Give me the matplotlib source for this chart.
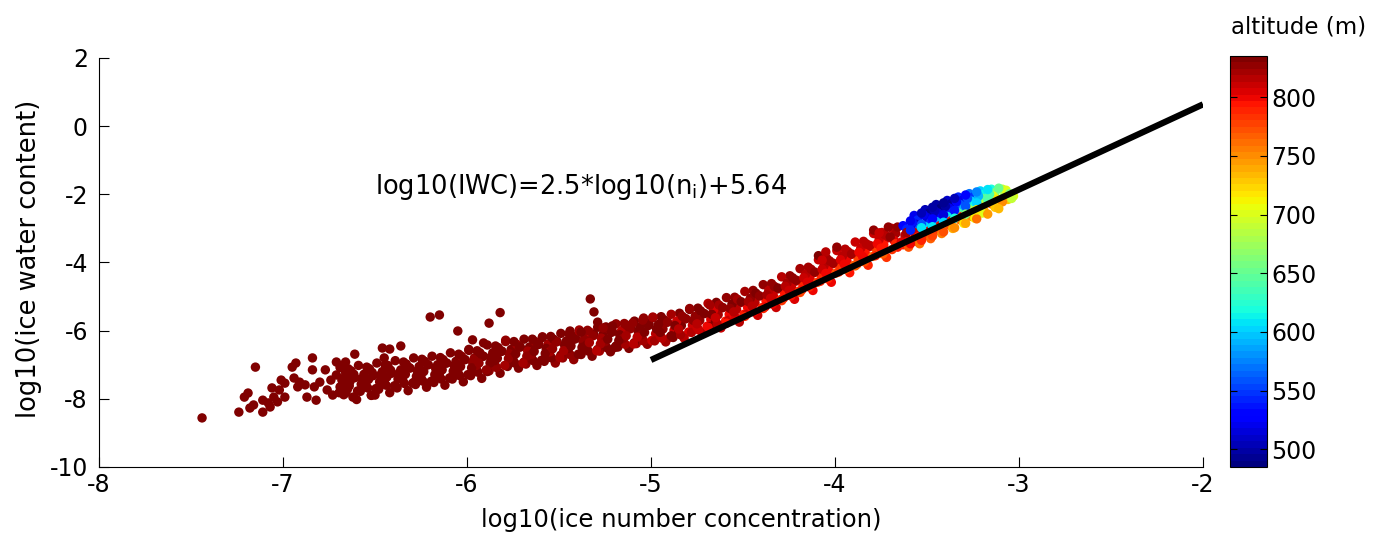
import numpy as np
import matplotlib.pyplot as plt

plt.rcParams['font.family'] = 'DejaVu Sans'
plt.rcParams['axes.unicode_minus'] = False

# --- data: log10(ni), log10(IWC), altitude (m) ---
# sparse left tail
tail_x = [-7.44, -7.24, -7.21, -7.19, -7.18, -7.16, -7.15, -7.11, -7.11, -7.08,
          -7.07, -7.06, -7.05, -7.03, -7.02, -7.01, -6.99, -6.99, -6.95, -6.93,
          -6.94, -6.92, -6.91, -6.88, -6.87, -6.84, -6.84, -6.83, -6.82, -6.80,
          -6.77, -6.76, -6.74, -6.73, -6.71, -6.71, -6.69, -6.67, -6.66, -6.65]
tail_y = [-8.56, -8.39, -7.95, -7.83, -8.27, -8.18, -7.07, -8.39, -8.04, -8.12,
          -8.24, -7.68, -7.95, -8.09, -7.74, -7.45, -7.95, -7.54, -7.07, -6.95,
          -7.39, -7.65, -7.51, -7.59, -7.95, -6.80, -7.15, -7.65, -8.04, -7.51,
          -7.15, -7.74, -7.45, -7.89, -6.92, -7.30, -7.65, -7.07, -7.83, -7.39]
tail_alt = [835] * 40

# dense lower band, -6.7 .. -5.0
low_x = [
    -6.69, -6.67, -6.66, -6.64, -6.63, -6.62, -6.68, -6.65, -6.61, -6.64, -6.66,
    -6.59, -6.58, -6.56, -6.55, -6.53, -6.52, -6.57, -6.54, -6.51, -6.55, -6.60,
    -6.49, -6.48, -6.46, -6.45, -6.43, -6.42, -6.47, -6.44, -6.41, -6.45, -6.50,
    -6.39, -6.38, -6.36, -6.35, -6.33, -6.32, -6.37, -6.34, -6.31, -6.35, -6.39,
    -6.29, -6.28, -6.26, -6.25, -6.23, -6.22, -6.27, -6.24, -6.21, -6.25, -6.29,
    -6.19, -6.18, -6.16, -6.15, -6.13, -6.12, -6.17, -6.14, -6.11, -6.15, -6.19,
    -6.09, -6.08, -6.06, -6.05, -6.03, -6.02, -6.07, -6.04, -6.01, -6.05, -6.09,
    -5.99, -5.98, -5.96, -5.95, -5.93, -5.92, -5.97, -5.94, -5.91, -5.95, -5.99,
    -5.89, -5.88, -5.86, -5.85, -5.83, -5.82, -5.87, -5.84, -5.81, -5.85, -5.89,
    -5.79, -5.78, -5.76, -5.75, -5.73, -5.72, -5.77, -5.74, -5.71, -5.75, -5.79,
    -5.69, -5.68, -5.66, -5.65, -5.63, -5.62, -5.67, -5.64, -5.61, -5.65, -5.69,
    -5.59, -5.58, -5.56, -5.55, -5.53, -5.52, -5.57, -5.54, -5.51, -5.55, -5.59,
    -5.49, -5.48, -5.46, -5.45, -5.43, -5.42, -5.47, -5.44, -5.41, -5.45, -5.49,
    -5.39, -5.38, -5.36, -5.35, -5.33, -5.32, -5.37, -5.34, -5.31, -5.35, -5.39,
    -5.29, -5.28, -5.26, -5.25, -5.23, -5.22, -5.27, -5.24, -5.21, -5.25, -5.29,
    -5.19, -5.18, -5.16, -5.15, -5.13, -5.12, -5.17, -5.14, -5.11, -5.15, -5.19,
    -5.09, -5.08, -5.06, -5.05, -5.03, -5.02, -5.07, -5.04, -5.01, -5.05, -5.09]
low_y = [
    -7.08, -7.88, -7.32, -7.62, -7.18, -7.95, -7.45, -7.72, -7.38, -7.52, -7.22,
    -7.02, -7.78, -7.28, -7.58, -7.12, -7.90, -7.40, -7.68, -7.32, -7.50, -8.02,
    -6.95, -7.72, -7.20, -7.50, -7.02, -7.82, -7.30, -7.60, -7.25, -7.42, -7.89,
    -6.88, -7.68, -7.15, -7.45, -6.98, -7.76, -7.25, -7.55, -7.10, -7.36, -7.62,
    -6.80, -7.58, -7.05, -7.38, -6.90, -7.66, -7.18, -7.48, -7.00, -7.28, -7.52,
    -6.75, -7.52, -7.00, -7.32, -6.85, -7.60, -7.12, -7.42, -6.95, -7.22, -7.48,
    -6.65, -7.42, -6.90, -7.22, -6.75, -7.50, -7.02, -7.32, -6.85, -7.12, -7.38,
    -6.55, -7.32, -6.80, -7.12, -6.65, -7.40, -6.92, -7.22, -6.75, -7.02, -6.58,
    -6.42, -7.18, -6.65, -6.98, -6.50, -7.25, -6.78, -7.08, -6.60, -6.88, -7.20,
    -6.32, -7.05, -6.55, -6.88, -6.40, -7.10, -6.68, -6.95, -6.48, -6.78, -6.28,
    -6.25, -6.98, -6.48, -6.80, -6.32, -7.02, -6.60, -6.88, -6.40, -6.70, -6.92,
    -6.18, -6.90, -6.40, -6.72, -6.25, -6.95, -6.52, -6.80, -6.32, -6.62, -6.20,
    -6.08, -6.80, -6.30, -6.62, -6.15, -6.85, -6.42, -6.70, -6.22, -6.52, -6.72,
    -5.98, -6.70, -6.20, -6.52, -6.05, -6.75, -6.32, -6.60, -6.12, -6.42, -6.02,
    -5.90, -6.60, -6.10, -6.42, -5.95, -6.62, -6.22, -6.50, -6.02, -6.32, -6.55,
    -5.80, -6.48, -6.00, -6.32, -5.85, -6.52, -6.12, -6.40, -5.92, -6.22, -6.45,
    -5.72, -6.38, -5.90, -6.22, -5.75, -6.40, -6.02, -6.30, -5.82, -6.12, -6.35]
low_alt = [
    835, 833, 834, 835, 832, 835, 834, 833, 835, 834, 835,
    834, 835, 833, 835, 834, 832, 835, 834, 835, 833, 835,
    835, 834, 835, 833, 835, 834, 832, 835, 834, 835, 833,
    833, 835, 834, 835, 832, 835, 834, 835, 833, 834, 835,
    835, 832, 835, 834, 835, 833, 835, 834, 831, 835, 834,
    834, 835, 832, 835, 833, 835, 834, 830, 835, 834, 835,
    835, 833, 835, 834, 828, 835, 832, 835, 834, 835, 833,
    830, 835, 826, 834, 832, 835, 828, 835, 833, 829, 835,
    835, 828, 834, 825, 835, 830, 834, 827, 835, 832, 835,
    826, 835, 830, 835, 824, 834, 829, 835, 831, 835, 828,
    835, 825, 832, 834, 828, 835, 822, 833, 835, 827, 834,
    829, 835, 824, 833, 835, 826, 834, 830, 835, 823, 835,
    832, 826, 835, 820, 834, 829, 835, 825, 833, 835, 830,
    822, 834, 828, 835, 818, 833, 826, 835, 830, 834, 824,
    835, 820, 830, 834, 825, 835, 819, 832, 835, 826, 833,
    826, 833, 818, 835, 828, 830, 835, 821, 834, 827, 835,
    830, 822, 835, 816, 833, 828, 835, 820, 834, 829, 832]

# extra points filling the gaps inside the band, -6.7 .. -3.7
fill_x = [
    -6.615, -6.675, -6.635, -6.695, -6.645,  -6.515, -6.575, -6.535, -6.595, -6.545,
    -6.415, -6.475, -6.435, -6.495, -6.445,  -6.315, -6.375, -6.335, -6.395, -6.345,
    -6.215, -6.275, -6.235, -6.295, -6.245,  -6.115, -6.175, -6.135, -6.195, -6.145,
    -6.015, -6.075, -6.035, -6.095, -6.045,  -5.915, -5.975, -5.935, -5.995, -5.945,
    -5.815, -5.875, -5.835, -5.895, -5.845,  -5.715, -5.775, -5.735, -5.795, -5.745,
    -5.615, -5.675, -5.635, -5.695, -5.645,  -5.515, -5.575, -5.535, -5.595, -5.545,
    -5.415, -5.475, -5.435, -5.495, -5.445,  -5.315, -5.375, -5.335, -5.395, -5.345,
    -5.215, -5.275, -5.235, -5.295, -5.245,  -5.115, -5.175, -5.135, -5.195, -5.145,
    -5.015, -5.075, -5.035, -5.095, -5.045,  -4.915, -4.975, -4.935, -4.995, -4.945,
    -4.815, -4.875, -4.835, -4.895, -4.845,  -4.715, -4.775, -4.735, -4.795, -4.745,
    -4.615, -4.675, -4.635, -4.695, -4.645,  -4.515, -4.575, -4.535, -4.595, -4.545,
    -4.415, -4.475, -4.435, -4.495, -4.445,  -4.315, -4.375, -4.335, -4.395, -4.345,
    -4.215, -4.275, -4.235, -4.295, -4.245,  -4.115, -4.175, -4.135, -4.195, -4.145,
    -4.015, -4.075, -4.035, -4.095, -4.045,  -3.915, -3.975, -3.935, -3.995, -3.945,
    -3.815, -3.875, -3.835, -3.895, -3.845,  -3.715, -3.775, -3.735, -3.795, -3.745]
fill_y = [
    -7.28, -7.62, -7.48, -7.82, -7.12,  -7.23, -7.57, -7.43, -7.77, -7.07,
    -7.16, -7.50, -7.36, -7.70, -7.00,  -7.08, -7.42, -7.28, -7.62, -6.92,
    -7.00, -7.34, -7.20, -7.54, -6.84,  -6.95, -7.29, -7.15, -7.49, -6.79,
    -6.85, -7.19, -7.05, -7.39, -6.69,  -6.75, -7.09, -6.95, -7.29, -6.59,
    -6.61, -6.95, -6.81, -7.15, -6.45,  -6.48, -6.82, -6.68, -7.02, -6.32,
    -6.41, -6.75, -6.61, -6.95, -6.25,  -6.33, -6.67, -6.53, -6.87, -6.17,
    -6.25, -6.59, -6.45, -6.79, -6.09,  -6.15, -6.49, -6.35, -6.69, -5.99,
    -6.05, -6.39, -6.25, -6.59, -5.89,  -5.95, -6.29, -6.15, -6.49, -5.79,
    -5.85, -6.19, -6.05, -6.39, -5.69,  -5.75, -6.09, -5.95, -6.29, -5.59,
    -5.65, -5.99, -5.85, -6.19, -5.49,  -5.50, -5.84, -5.70, -6.04, -5.34,
    -5.33, -5.67, -5.53, -5.87, -5.17,  -5.18, -5.52, -5.38, -5.72, -5.02,
    -4.98, -5.32, -5.18, -5.52, -4.82,  -4.78, -5.12, -4.98, -5.32, -4.62,
    -4.55, -4.89, -4.75, -5.09, -4.39,  -4.30, -4.64, -4.50, -4.84, -4.14,
    -4.04, -4.38, -4.24, -4.58, -3.88,  -3.77, -4.11, -3.97, -4.31, -3.61,
    -3.54, -3.88, -3.74, -4.08, -3.38,  -3.28, -3.62, -3.48, -3.82, -3.12]
fill_alt = [
    835, 834, 835, 833, 835,  834, 835, 833, 835, 834,
    835, 833, 834, 835, 835,  834, 835, 832, 835, 834,
    833, 835, 834, 835, 832,  835, 834, 835, 833, 835,
    834, 832, 835, 830, 835,  833, 835, 828, 834, 835,
    830, 835, 832, 826, 834,  835, 828, 833, 824, 835,
    832, 826, 835, 822, 834,  829, 835, 825, 833, 835,
    834, 824, 830, 820, 835,  826, 833, 821, 835, 829,
    832, 822, 834, 818, 835,  825, 830, 820, 833, 828,
    830, 818, 834, 815, 828,  832, 816, 826, 812, 835,
    826, 812, 830, 808, 833,  822, 810, 828, 805, 832,
    828, 806, 820, 800, 830,  824, 802, 818, 796, 828,
    820, 800, 815, 792, 826,  818, 796, 812, 790, 825,
    822, 792, 808, 786, 828,  815, 790, 805, 782, 824,
    812, 788, 802, 778, 820,  810, 785, 798, 772, 818,
    808, 780, 795, 766, 815,  805, 778, 792, 760, 812]

# middle band, -5.0 .. -3.7
mid_x = [
    -4.99, -4.98, -4.96, -4.95, -4.93, -4.92, -4.97, -4.94, -4.91, -4.95, -4.99,
    -4.89, -4.88, -4.86, -4.85, -4.83, -4.82, -4.87, -4.84, -4.81, -4.85, -4.89,
    -4.79, -4.78, -4.76, -4.75, -4.73, -4.72, -4.77, -4.74, -4.71, -4.75, -4.79,
    -4.69, -4.68, -4.66, -4.65, -4.63, -4.62, -4.67, -4.64, -4.61, -4.65, -4.69,
    -4.59, -4.58, -4.56, -4.55, -4.53, -4.52, -4.57, -4.54, -4.51, -4.55, -4.59,
    -4.49, -4.48, -4.46, -4.45, -4.43, -4.42, -4.47, -4.44, -4.41, -4.45, -4.49,
    -4.39, -4.38, -4.36, -4.35, -4.33, -4.32, -4.37, -4.34, -4.31, -4.35, -4.39,
    -4.29, -4.28, -4.26, -4.25, -4.23, -4.22, -4.27, -4.24, -4.21, -4.25, -4.29,
    -4.19, -4.18, -4.16, -4.15, -4.13, -4.12, -4.17, -4.14, -4.11, -4.15, -4.19,
    -4.09, -4.08, -4.06, -4.05, -4.03, -4.02, -4.07, -4.04, -4.01, -4.05, -4.09,
    -3.99, -3.98, -3.96, -3.95, -3.93, -3.92, -3.97, -3.94, -3.91, -3.95, -3.99,
    -3.89, -3.88, -3.86, -3.85, -3.83, -3.82, -3.87, -3.84, -3.81, -3.85, -3.89,
    -3.79, -3.78, -3.76, -3.75, -3.73, -3.72, -3.77, -3.74, -3.71, -3.75, -3.79]
mid_y = [
    -5.62, -6.30, -5.82, -6.15, -5.68, -6.33, -5.95, -6.22, -5.75, -6.05, -5.60,
    -5.52, -6.20, -5.72, -6.05, -5.58, -6.22, -5.85, -6.12, -5.65, -5.95, -6.15,
    -5.38, -6.05, -5.58, -5.90, -5.42, -6.08, -5.70, -5.98, -5.50, -5.80, -5.35,
    -5.20, -5.88, -5.40, -5.72, -5.25, -5.92, -5.52, -5.80, -5.32, -5.62, -5.90,
    -5.03, -5.70, -5.22, -5.55, -5.08, -5.75, -5.35, -5.62, -5.15, -5.45, -5.78,
    -4.85, -5.52, -5.05, -5.38, -4.90, -5.55, -5.15, -5.45, -4.98, -5.28, -5.58,
    -4.65, -5.30, -4.82, -5.15, -4.70, -5.32, -4.95, -5.22, -4.75, -5.05, -5.35,
    -4.42, -5.05, -4.60, -4.92, -4.45, -5.08, -4.70, -4.98, -4.52, -4.82, -5.12,
    -4.18, -4.80, -4.35, -4.68, -4.20, -4.82, -4.45, -4.72, -4.28, -4.58, -4.88,
    -3.92, -4.55, -4.10, -4.42, -3.95, -4.58, -4.20, -4.48, -4.02, -4.32, -3.80,
    -3.65, -4.28, -3.82, -4.15, -3.68, -4.30, -3.92, -4.20, -3.75, -4.05, -3.55,
    -3.40, -4.05, -3.58, -3.92, -3.45, -4.08, -3.70, -3.98, -3.50, -3.82, -4.10,
    -3.15, -3.80, -3.32, -3.68, -3.18, -3.85, -3.45, -3.75, -3.25, -3.58, -3.05]
mid_alt = [
    828, 820, 833, 815, 830, 822, 835, 818, 826, 832, 824,
    822, 830, 812, 835, 825, 818, 832, 820, 828, 815, 833,
    830, 815, 825, 808, 835, 820, 828, 812, 832, 818, 826,
    818, 828, 805, 832, 820, 810, 830, 815, 825, 808, 800,
    826, 812, 830, 800, 822, 815, 828, 805, 832, 818, 795,
    820, 808, 825, 798, 830, 812, 822, 802, 828, 815, 790,
    825, 800, 818, 795, 828, 810, 820, 798, 830, 812, 788,
    815, 795, 822, 790, 825, 805, 818, 792, 828, 808, 785,
    820, 792, 815, 788, 822, 800, 812, 790, 825, 805, 780,
    812, 790, 818, 785, 820, 798, 808, 788, 822, 802, 830,
    808, 785, 815, 780, 818, 795, 805, 770, 820, 800, 828,
    810, 775, 812, 785, 815, 790, 802, 772, 818, 798, 765,
    812, 790, 808, 778, 815, 785, 800, 768, 818, 795, 825]

# upper end of the cloud, -3.7 .. -3.0
top_x = [
    -3.69, -3.67, -3.68, -3.66, -3.70, -3.67, -3.69, -3.66,
    -3.63, -3.61, -3.62, -3.60, -3.63, -3.61, -3.60, -3.64,
    -3.57, -3.55, -3.56, -3.54, -3.57, -3.55, -3.56, -3.54, -3.58,
    -3.51, -3.49, -3.50, -3.48, -3.51, -3.49, -3.50, -3.48, -3.52,
    -3.45, -3.43, -3.44, -3.42, -3.45, -3.43, -3.44, -3.42, -3.46,
    -3.39, -3.37, -3.38, -3.36, -3.39, -3.37, -3.38, -3.36, -3.40,
    -3.33, -3.31, -3.32, -3.30, -3.33, -3.31, -3.32, -3.30, -3.34,
    -3.27, -3.25, -3.26, -3.24, -3.27, -3.25, -3.26, -3.24, -3.28,
    -3.21, -3.19, -3.20, -3.18, -3.21, -3.19, -3.20, -3.22,
    -3.15, -3.13, -3.14, -3.12, -3.15, -3.13, -3.16,
    -3.09, -3.07, -3.08, -3.06, -3.09, -3.07,
    -3.05, -3.03, -3.04,
    -3.59, -3.53, -3.47, -3.41, -3.35, -3.29, -3.23, -3.17, -3.11,
    -3.59, -3.53, -3.47, -3.41, -3.35, -3.29, -3.23, -3.17, -3.11,
    -3.53, -3.47, -3.41, -3.35, -3.29, -3.23, -3.17,
    -3.59, -3.53, -3.47, -3.41, -3.35, -3.29, -3.23]
top_y = [
    -3.00, -3.15, -3.35, -3.55, -3.25, -3.45, -3.62, -2.96,
    -2.92, -3.02, -3.20, -3.35, -3.48, -3.12, -3.55, -3.40,
    -2.62, -2.75, -2.88, -3.00, -3.12, -3.25, -3.38, -3.45, -2.82,
    -2.45, -2.55, -2.68, -2.82, -2.95, -3.08, -3.20, -3.30, -2.60,
    -2.30, -2.42, -2.55, -2.68, -2.80, -2.92, -3.05, -3.15, -2.48,
    -2.18, -2.28, -2.40, -2.52, -2.65, -2.78, -2.90, -3.00, -2.35,
    -2.08, -2.18, -2.30, -2.42, -2.55, -2.65, -2.75, -2.85, -2.22,
    -1.98, -2.08, -2.20, -2.32, -2.45, -2.55, -2.65, -2.70, -2.12,
    -1.90, -2.00, -2.12, -2.25, -2.38, -2.48, -2.55, -2.05,
    -1.85, -1.95, -2.05, -2.15, -2.28, -2.38, -2.00,
    -1.85, -1.95, -2.05, -2.15, -2.22, -1.88,
    -1.98, -2.05, -2.12,
    -2.78, -2.55, -2.38, -2.25, -2.12, -2.02, -1.93, -1.86, -1.82,
    -3.45, -3.35, -3.22, -3.10, -2.98, -2.85, -2.72, -2.58, -2.42,
    -2.88, -2.72, -2.60, -2.47, -2.35, -2.25, -2.15,
    -3.05, -2.98, -2.95, -2.82, -2.70, -2.58, -2.45]
top_alt = [
    812, 820, 805, 795, 825, 790, 785, 828,
    530, 545, 815, 800, 790, 820, 770, 805,
    520, 540, 510, 560, 810, 795, 780, 760, 535,
    505, 495, 515, 540, 600, 805, 790, 765, 520,
    500, 490, 510, 530, 590, 800, 785, 755, 505,
    510, 495, 520, 545, 610, 795, 770, 740, 500,
    540, 520, 560, 590, 640, 790, 760, 720, 530,
    570, 550, 600, 620, 680, 780, 750, 710, 560,
    600, 615, 650, 690, 770, 740, 700, 590,
    620, 660, 700, 720, 760, 730, 640,
    690, 705, 680, 730, 750, 700,
    660, 700, 690,
    520, 505, 498, 492, 505, 530, 575, 610, 650,
    800, 790, 780, 770, 750, 740, 760, 745, 735,
    560, 525, 515, 535, 560, 600, 640,
    540, 610, 610, 600, 620, 660, 720]

# isolated points above the band
out_x = [-6.20, -6.15, -6.05, -5.88, -5.82, -6.36, -6.46, -6.42, -6.61, -6.66,
         -6.45, -5.97, -5.91, -5.33, -5.31, -5.29, -5.44, -5.38, -5.10, -5.04,
         -5.21, -5.26, -4.68, -3.71, -3.76, -4.05, -6.52, -4.07]
out_y = [-5.60, -5.54, -6.01, -5.78, -5.47, -6.45, -6.51, -6.54, -6.69, -6.92,
         -6.80, -6.27, -6.36, -5.07, -5.45, -5.75, -6.01, -6.04, -5.78, -5.63,
         -5.86, -5.92, -5.25, -2.96, -3.13, -3.69, -7.89, -3.93]
out_alt = [835, 835, 835, 834, 835, 835, 835, 835, 835, 835,
           835, 834, 835, 833, 834, 832, 833, 830, 828, 826,
           830, 829, 822, 826, 808, 818, 835, 812]

# fitted line log10(IWC) = 2.5*log10(ni) + 5.64
fit_x = [-5.0, -2.0]
fit_y = [-6.86, 0.64]

ni = np.concatenate([tail_x, low_x, fill_x, mid_x, top_x, out_x])
iwc = np.concatenate([tail_y, low_y, fill_y, mid_y, top_y, out_y])
alt = np.concatenate([tail_alt, low_alt, fill_alt, mid_alt, top_alt, out_alt])

fig = plt.figure(figsize=(13.81, 5.39), dpi=100)
ax = fig.add_axes([0.0717, 0.1336, 0.7994, 0.7588])
cax = fig.add_axes([0.8907, 0.1336, 0.0268, 0.7625])

sc = ax.scatter(ni, iwc, c=alt, cmap=plt.get_cmap('jet', 64), vmin=485, vmax=835,
                s=46, linewidths=0)
ax.plot(fit_x, fit_y, color='k', lw=4.5, solid_capstyle='butt')

ax.set_xlim(-8, -2)
ax.set_ylim(-10, 2)
ax.set_xticks(range(-8, -1))
ax.set_yticks(range(-10, 3, 2))
ax.spines['top'].set_visible(False)
ax.spines['right'].set_visible(False)
ax.tick_params(direction='in', length=7, labelsize=17)
ax.tick_params(axis='y', pad=8)
ax.tick_params(axis='x', pad=4)
ax.set_xlabel('log10(ice number concentration)', fontsize=17.5)
ax.set_ylabel('log10(ice water content)', fontsize=18.5)
ax.xaxis.set_label_coords(0.527, -0.10)
ax.yaxis.set_label_coords(-0.052, 0.51)
ax.text(-6.5, -1.79, r'log10(IWC)=2.5*log10(n$_\mathregular{i}$)+5.64', fontsize=18.5, va='center')

cb = fig.colorbar(sc, cax=cax, ticks=[500, 550, 600, 650, 700, 750, 800])
cax.tick_params(direction='in', length=5, labelsize=17, left=True, right=True, pad=3)
fig.text(0.94, 0.95, 'altitude (m)', ha='center', va='center', fontsize=16.5)

fig.savefig('out.png', dpi=100)
